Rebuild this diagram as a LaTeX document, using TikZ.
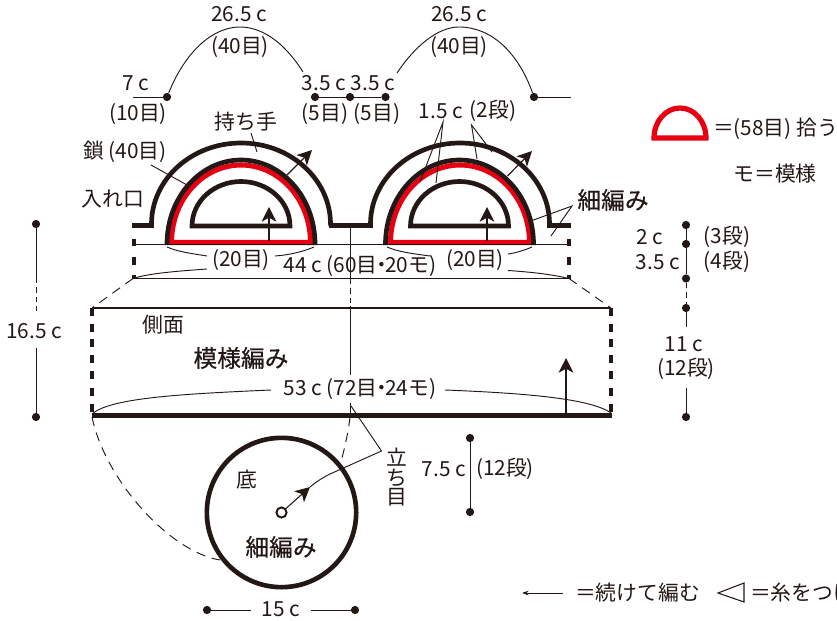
\documentclass[tikz,border=0pt]{standalone}
\usepackage{fontspec}
\setmainfont{Noto Sans CJK JP}
\newfontfamily\medjp[FakeBold=0.5]{Noto Sans CJK JP}
\usetikzlibrary{arrows.meta}
\definecolor{ink}{HTML}{231815}
\definecolor{redline}{HTML}{E60012}
\newcommand{\nakag}{\hspace{-0.32em}・\hspace{-0.32em}}
\tikzset{
  txt/.style={inner sep=0pt,outer sep=0pt,text=ink,font=\fontsize{15.6}{16}\selectfont},
  btxt/.style={inner sep=0pt,outer sep=0pt,text=ink,font=\fontsize{17.8}{18}\medjp},
  thin line/.style={draw=ink,line width=0.7pt},
  mid line/.style={draw=ink,line width=1.4pt},
  thick line/.style={draw=ink,line width=3.5pt},
  red line/.style={draw=redline,line width=3.8pt},
  dashline/.style={draw=ink,line width=0.7pt,dash pattern=on 7pt off 5pt},
  shortdash/.style={draw=ink,line width=0.7pt,dash pattern=on 4pt off 3pt},
  dotm/.style={circle,fill=ink,inner sep=0pt,minimum size=6.2pt},
  arrowline/.style={draw=ink,line width=0.9pt,-{Stealth[length=11pt,width=11pt,inset=3pt]}},
  stitch/.style={draw=ink,line width=3.6pt},
}
\begin{document}
\begin{tikzpicture}[x=0.75pt,y=-0.75pt]
\useasboundingbox (0,0) rectangle (837,620);
\clip (0,0) rectangle (837,620);
% --- top dimensions
\node[dotm] (d1) at (167,97) {};
\node[dotm] (d2) at (315,97) {};
\node[dotm] (d3) at (350,97) {};
\node[dotm] (d4) at (385.5,97) {};
\node[dotm] (d5) at (534,97) {};
\coordinate (d0) at (133,97);
\coordinate (d6) at (571,97);
\coordinate (c1e) at (303,72);
\coordinate (c2s) at (397,73);
\draw[thin line] (d0) -- (d1);
\draw[thin line] (d2) -- (d3) -- (d4);
\draw[thin line] (d5) -- (d6);
\draw[thin line] (d1) .. controls (187,48) and (215,27) .. (240,27) .. controls (266,27) and (288,48) .. (c1e);
\draw[thin line] (c2s) .. controls (415,46) and (438,27) .. (459,27) .. controls (491,27) and (518,52) .. (d5);
% --- handles
\foreach \cx in {241,460}{
  \draw[red line] (\cx-69.5,242.5) arc (180:360:69.5 and 77.5) -- cycle;
}
\draw[mid line] (134,244.5) -- (569,244.5);
\draw[thick line,line join=miter] (134,225.5) -- (151.5,225.5) -- (151.5,224)
  arc (180:360:89.5 and 81) -- (331,225.5) -- (370.5,225.5) -- (370.5,224)
  arc (180:360:89.5 and 81) -- (549.5,225.5) -- (569,225.5);
\foreach \cx in {241,459.5}{
  \draw[thick line] (\cx-74,245) -- (\cx-74,244) arc (180:360:74 and 84) -- (\cx+74,245);
  \draw[thick line,line join=miter] (\cx-49,226) arc (180:360:49 and 44.5) -- cycle;
}
% side stitches, upper
\foreach \sx in {134,569}{
  \draw[stitch] (\sx,223) -- (\sx,228);
  \draw[stitch] (\sx,239) -- (\sx,246);
  \draw[stitch] (\sx,257) -- (\sx,265);
  \draw[stitch] (\sx,275) -- (\sx,279);
}
\coordinate (bl) at (133,278.5);
\coordinate (br) at (569,278.5);
\draw[draw=ink,line width=0.9pt] (bl) -- (br);
% arrows on handles
\draw[arrowline] (269,241) -- (269,207);
\draw[arrowline] (287,175) -- (312,150);
\draw[arrowline] (487,241) -- (487,207);
\draw[arrowline] (507.5,176) -- (532,151);
% handle labels
\node[txt] (t1) at (239,14) {26.5 c};
\node[txt] (t2) at (240,47) {(40目)};
\node[txt] (t3) at (459,14) {26.5 c};
\node[txt] (t4) at (459,47) {(40目)};
\node[txt] (t5) at (136,83) {7 c};
\node[txt] (t6) at (138,114) {(10目)};
\node[txt] (t7) at (324,83) {3.5 c};
\node[txt] (t8) at (373,83) {3.5 c};
\node[txt] (t9) at (325,114) {(5目)};
\node[txt] (t10) at (377,114) {(5目)};
\node[txt] (hand) at (246,122) {持ち手};
\node[txt] (chain) at (125,152) {鎖 (40目)};
\node[txt] (open) at (113,199) {入れ口};
\node[txt] (t11) at (441,111) {1.5 c};
\node[txt] (t12) at (493,111) {(2段)};
\node[btxt] (sc) at (613,200) {細編み};
\draw[thin line] (251,133) -- (257,152);
\draw[thin line] (151,165) -- (187,185);
\coordinate (la) at (443,122);
\coordinate (lb) at (471.5,125);
\draw[thin line] (420,182) -- (la) -- (436,183);
\draw[thin line] (477,159) -- (lb) -- (492,152);
\coordinate (sa) at (572,206);
\draw[thin line] (528,222) -- (sa) -- (551,236);
% gauge labels
\node[txt] (t20a) at (241,260) {(20目)};
\node[txt] (t20b) at (475,260) {(20目)};
\node[txt] (t44) at (360,266) {44 c (60目\nakag 20モ)};
\draw[thin line] (167,247) .. controls (178,252) and (195,254) .. (207,256);
\draw[thin line] (275,256) .. controls (290,255) and (305,251) .. (314,247);
\draw[thin line] (387,247) .. controls (398,252) and (415,254) .. (430,256);
\draw[thin line] (508,254) .. controls (516,253) and (525,250) .. (532,247);
\draw[thin line] (bl) .. controls (150,273) and (180,271) .. (207,269);
\draw[thin line] (508,270.5) .. controls (530,272) and (550,274) .. (br);
% --- body
\coordinate (bd1) at (92,308);
\coordinate (bd2) at (611,308);
\draw[dashline] (bl) -- (bd1);
\draw[dashline] (br) -- (bd2);
\draw[draw=ink,line width=0.9pt] (bd1) -- (bd2);
\foreach \sx in {92,611}{
  \foreach \sy in {308,324,339,355,371,388,404}{
    \draw[stitch] (\sx,\sy) -- (\sx,\sy+8);
  }
}
\draw[draw=ink,line width=3.5pt] (92,415.7) -- (612,415.7);
\draw[arrowline] (566,415) -- (566,358);
\node[txt] (side) at (163,325) {側面};
\node[btxt] (pat) at (241,358) {模様編み};
\node[txt] (t53) at (360,389) {53 c (72目\nakag 24モ)};
\draw[thin line] (92,414) .. controls (110,398) and (180,394) .. (271,390);
\draw[thin line] (445,390) .. controls (520,393) and (590,398) .. (611,413);
% center seam
\coordinate (sm) at (350,226);
\draw[thin line] (sm) -- (350,279);
\draw[shortdash] (350,279) -- (350,306);
\draw[thin line] (350,306) -- (350,375);
\draw[thin line] (350,403) -- (350,415);
\draw[dashline] (350,417) .. controls (348,435) and (344,450) .. (340,466);
% --- base
\node[circle,draw=ink,line width=3.5pt,minimum size=112pt,inner sep=0pt] (base) at (281.5,512.5) {};
\node[circle,draw=ink,fill=white,line width=1.5pt,minimum size=7.6pt,inner sep=0pt] (cen) at (281.5,512.5) {};
\draw[dashline] (92,417) .. controls (105,480) and (170,552) .. (220,560);
\coordinate (rm) at (381.5,451);
\coordinate (rtop) at (351,406);
\coordinate (ra) at (310,487);
\draw[thin line] (rtop) -- (rm) -- (330,474) .. controls (322,478) and (316,482) .. (ra);
\draw[arrowline,line width=0.8pt] (cen) -- (ra);
\node[txt] (r1) at (397,457) {立};
\node[txt] (r2) at (397,478) {ち};
\node[txt] (r3) at (397,497) {目};
\node[txt] (bottom) at (247,480) {底};
\node[btxt] (sc2) at (281,547) {細編み};
% 15 c
\node[dotm] (w1) at (207,610) {};
\node[dotm] (w2) at (355,610) {};
\node[txt] (t15) at (281,609) {15 c};
\draw[thin line] (w1) -- (251,610);
\draw[thin line] (311,610) -- (w2);
% 7.5 c
\node[dotm] (h1) at (470,438) {};
\node[dotm] (h2) at (470,512) {};
\draw[thin line] (h1) -- (h2);
\node[txt] (t75) at (444,469) {7.5 c};
\node[txt] (t12d) at (505,469) {(12段)};
% right dims
\node[dotm] (r0) at (686,225) {};
\node[dotm] (ra1) at (686,244) {};
\node[dotm] (ra2) at (686,278.5) {};
\node[dotm] (ra3) at (686,308) {};
\node[dotm] (ra4) at (686,417) {};
\draw[thin line] (r0) -- (ra1) -- (ra2);
\draw[shortdash] (ra2) -- (ra3);
\draw[thin line] (ra3) -- (686,327);
\draw[thin line] (686,388) -- (ra4);
\node[txt] (t2c) at (650,237) {2 c};
\node[txt] (t35) at (658,262) {3.5 c};
\node[txt] (t3d) at (727,237) {(3段)};
\node[txt] (t4d) at (727,262) {(4段)};
\node[txt] (t11c) at (684,344) {11 c};
\node[txt] (t12e) at (686,369) {(12段)};
% left dim
\node[dotm] (l1) at (36,224) {};
\node[dotm] (l2) at (36,417) {};
\draw[thin line] (l1) -- (36,278);
\draw[shortdash] (36,278) -- (36,313);
\draw[thin line] (36,348) -- (l2);
\node[txt] (t165) at (34,331) {16.5 c};
% legend
\draw[draw=redline,line width=3.9pt,line join=miter] (654,138) arc (180:360:26 and 30) -- cycle;
\node[txt,anchor=west] (leg1) at (713,129) {＝(58目) 拾う};
\node[txt] (leg2) at (775,174) {モ＝模様};
\coordinate (a1) at (563,593);
\coordinate (a2) at (522,593);
\draw[thin line,-{Stealth[length=5pt,width=3.5pt]}] (a1) -- (a2);
\node[txt,anchor=west] (leg3) at (575,593) {＝続けて編む};
\draw[thin line,line width=0.8pt] (744,583) -- (718,593) -- (744,602) -- cycle;
\node[txt,anchor=west] (leg4) at (750,593) {＝糸をつける};
\end{tikzpicture}
\end{document}
